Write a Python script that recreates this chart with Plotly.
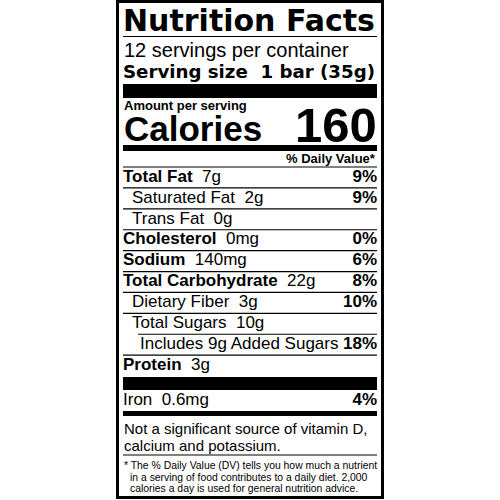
import plotly.graph_objects as go

# --- dados do rótulo ---
nutrients = ["Total Fat", "Saturated Fat", "Trans Fat", "Cholesterol", "Sodium",
             "Total Carbohydrate", "Dietary Fiber", "Total Sugars",
             "Includes 9g Added Sugars", "Protein"]
amounts = ["7g", "2g", "0g", "0mg", "140mg", "22g", "3g", "10g", "", "3g"]
daily_values = ["9%", "9%", "", "0%", "6%", "8%", "10%", "", "18%", ""]

minerals = ["Iron"]
mineral_amounts = ["0.6mg"]
mineral_dv = ["4%"]

servings_text = "12 servings per container"
serving_size = "1 bar (35g)"
calories = "160"
not_significant = ["Not a significant source of vitamin D,", "calcium and potassium."]
footnote = ["* The % Daily Value (DV) tells you how much a nutrient",
            "in a serving of food contributes to a daily diet. 2,000",
            "calories a day is used for general nutrition advice."]

# --- layout (posições em pixels, eixo y invertido) ---
FONT = "Liberation Sans, Arial, sans-serif"
HEAVY = "DejaVu Sans, Liberation Sans, sans-serif"
LEFT, RIGHT = 123, 377
ROW0, PITCH = 177.5, 20.9
level = {"Saturated Fat": 1, "Trans Fat": 1, "Dietary Fiber": 1, "Total Sugars": 1,
         "Includes 9g Added Sugars": 2}
indent_x = {0: LEFT, 1: 132, 2: 140}

NB = "\u00a0"
fig = go.Figure()

# linhas de nutrientes
row_y = [ROW0 + i * PITCH for i in range(len(nutrients))]
labels, label_x = [], []
for name, amt in zip(nutrients, amounts):
    lv = level.get(name, 0)
    txt = f"<b>{name}</b>" if lv == 0 else name
    if amt:
        txt += NB * 2 + amt
    labels.append(txt)
    label_x.append(indent_x[lv])

fig.add_trace(go.Scatter(x=label_x, y=row_y, mode="text", text=labels,
                         textposition="middle right",
                         textfont=dict(family=FONT, size=17, color="black")))
fig.add_trace(go.Scatter(x=[RIGHT] * len(nutrients), y=row_y, mode="text",
                         text=[f"<b>{v}</b>" if v else "" for v in daily_values],
                         textposition="middle left",
                         textfont=dict(family=FONT, size=17, color="black")))

# ferro
iron_y = [400.5]
fig.add_trace(go.Scatter(x=[LEFT], y=iron_y, mode="text",
                         text=[f"{n}{NB*2}{a}" for n, a in zip(minerals, mineral_amounts)],
                         textposition="middle right",
                         textfont=dict(family=FONT, size=17, color="black")))
fig.add_trace(go.Scatter(x=[RIGHT], y=iron_y, mode="text",
                         text=[f"<b>{v}</b>" for v in mineral_dv],
                         textposition="middle left",
                         textfont=dict(family=FONT, size=17, color="black")))

# separadores finos entre linhas
shapes = []
for i, name in enumerate(nutrients[:-1]):
    nxt = nutrients[i + 1]
    x0 = 138 if level.get(nxt, 0) == 2 else LEFT
    y = row_y[i] + PITCH / 2
    shapes.append(dict(type="line", x0=x0, x1=RIGHT, y0=y, y1=y,
                       line=dict(color="black", width=1.2)))
for y in [36.5, 167, 455]:
    shapes.append(dict(type="line", x0=LEFT, x1=RIGHT, y0=y, y1=y,
                       line=dict(color="black", width=1.2)))

# barras grossas
for y0, y1 in [(84, 98), (145, 151), (377, 390), (411, 416)]:
    shapes.append(dict(type="rect", x0=LEFT, x1=RIGHT, y0=y0, y1=y1,
                       fillcolor="black", line=dict(width=0)))

# borda externa
shapes.append(dict(type="rect", x0=117.5, x1=382.5, y0=1.5, y1=497.5,
                   line=dict(color="black", width=3)))

def note(x, y, text, size, bold=False, anchor="left", family=FONT):
    return dict(x=x, y=y, xref="x", yref="y", text=f"<b>{text}</b>" if bold else text,
                showarrow=False, xanchor=anchor, yanchor="middle",
                font=dict(family=family, size=size, color="black"), borderpad=0)

annotations = [
    note(LEFT - 1, 20, "Nutrition Facts", 30, bold=True, family=HEAVY),
    note(LEFT, 49.5, servings_text, 20),
    note(LEFT - 1, 71, f"Serving size{NB*2}{serving_size}", 18.2, bold=True, family=HEAVY),
    note(LEFT, 105.5, "Amount per serving", 13, bold=True),
    note(LEFT, 128.5, "Calories", 35, bold=True),
    note(RIGHT + 1, 125, calories, 49, bold=True, anchor="right"),
    note(RIGHT, 158, "% Daily Value*", 13, bold=True, anchor="right"),
    note(LEFT, 428.5, not_significant[0], 15),
    note(LEFT, 445.5, not_significant[1], 15),
    note(LEFT, 465.5, footnote[0], 10.4),
    note(LEFT + 6, 477, footnote[1], 10.4),
    note(LEFT + 6, 488, footnote[2], 10.4),
]

fig.update_layout(
    width=500, height=500,
    margin=dict(l=0, r=0, t=0, b=0),
    paper_bgcolor="white", plot_bgcolor="white",
    showlegend=False,
    xaxis=dict(range=[0, 500], visible=False, fixedrange=True),
    yaxis=dict(range=[500, 0], visible=False, fixedrange=True),
    shapes=shapes,
    annotations=annotations,
)

# tira a margem padrão do body para o gráfico ocupar a janela inteira
fig.write_html("out.html", config={"displayModeBar": False},
               post_script="document.body.style.margin='0';")
